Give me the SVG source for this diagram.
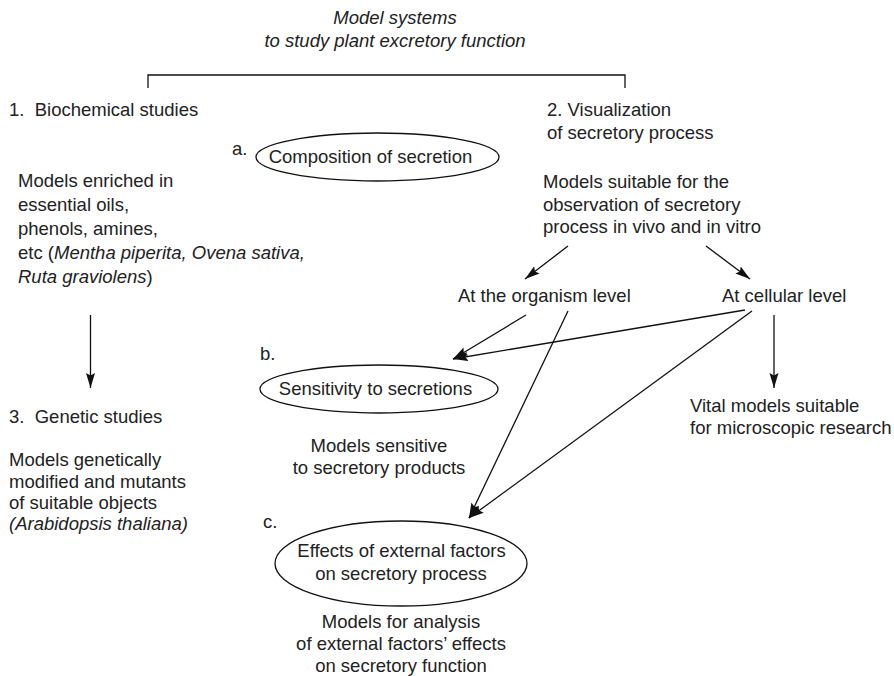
<svg xmlns="http://www.w3.org/2000/svg" width="894" height="676" viewBox="0 0 894 676">
<style>
text{font-family:"Liberation Sans",Arial,sans-serif;font-size:18.5px;fill:#222}
.i{font-style:italic}
.m{text-anchor:middle}
.ln{stroke:#111;stroke-width:1.3;fill:none}
.el{stroke:#111;stroke-width:1.3;fill:none}
</style>
<defs>
<marker id="ah" markerUnits="userSpaceOnUse" markerWidth="16" markerHeight="10" refX="15" refY="4.5" orient="auto">
<path d="M0,0 L15,4.5 L0,9 L2.5,4.5 z" fill="#111"/>
</marker>
</defs>
<g id="title">
<text class="i m" x="395" y="24">Model systems</text>
<text class="i m" x="395" y="47">to study plant excretory function</text>
</g>
<g id="bracket">
<path class="ln" d="M148,88 V75 H625 V88"/>
</g>
<g id="biochem">
<text x="9" y="116">1.&#160; Biochemical studies</text>
<text x="18" y="187">Models enriched in</text>
<text x="18" y="211">essential oils,</text>
<text x="18" y="235">phenols, amines,</text>
<text x="18" y="259">etc (<tspan class="i">Mentha piperita, Ovena sativa,</tspan></text>
<text x="18" y="283"><tspan class="i">Ruta graviolens</tspan>)</text>
</g>
<g id="genetic">
<text x="9" y="423">3.&#160; Genetic studies</text>
<text x="9" y="466">Models genetically</text>
<text x="9" y="488">modified and mutants</text>
<text x="9" y="509">of suitable objects</text>
<text class="i" x="9" y="530">(Arabidopsis thaliana)</text>
</g>
<g id="visual">
<text x="547" y="116">2. Visualization</text>
<text x="547" y="139">of secretory process</text>
<text x="543" y="188">Models suitable for the</text>
<text x="543" y="211">observation of secretory</text>
<text x="543" y="233">process in vivo and in vitro</text>
</g>
<g id="organism">
<text x="458" y="302">At the organism level</text>
</g>
<g id="cellular">
<text x="722" y="302">At cellular level</text>
</g>
<g id="vital">
<text x="690" y="412">Vital models suitable</text>
<text x="690" y="434">for microscopic research</text>
</g>
<g id="node-a">
<text x="232" y="155">a.</text>
<ellipse class="el" cx="377.5" cy="157" rx="121.5" ry="24"/>
<text class="m" x="370.5" y="163">Composition of secretion</text>
</g>
<g id="node-b">
<text x="260" y="360">b.</text>
<ellipse class="el" cx="379" cy="389" rx="119" ry="24"/>
<text class="m" x="375.5" y="395">Sensitivity to secretions</text>
<text class="m" x="379" y="452">Models sensitive</text>
<text class="m" x="379" y="474">to secretory products</text>
</g>
<g id="node-c">
<text x="263" y="528">c.</text>
<ellipse class="el" cx="401" cy="563.5" rx="126" ry="42.5"/>
<text class="m" x="401.5" y="557">Effects of external factors</text>
<text class="m" x="401" y="580">on secretory process</text>
<text class="m" x="401" y="628">Models for analysis</text>
<text class="m" x="401" y="650">of external factors’ effects</text>
<text class="m" x="401" y="672">on secretory function</text>
</g>
<g id="connectors">
<line class="ln" x1="90.5" y1="315" x2="90.5" y2="388" marker-end="url(#ah)"/>
<line class="ln" x1="568" y1="246" x2="525" y2="279" marker-end="url(#ah)"/>
<line class="ln" x1="706" y1="246" x2="750" y2="279" marker-end="url(#ah)"/>
<line class="ln" x1="526" y1="315" x2="453" y2="359" marker-end="url(#ah)"/>
<line class="ln" x1="745" y1="310" x2="453" y2="359" marker-end="url(#ah)"/>
<line class="ln" x1="568" y1="311" x2="469" y2="518" marker-end="url(#ah)"/>
<line class="ln" x1="752" y1="311" x2="469" y2="518" marker-end="url(#ah)"/>
<line class="ln" x1="774" y1="315" x2="774" y2="388" marker-end="url(#ah)"/>
</g>
</svg>
